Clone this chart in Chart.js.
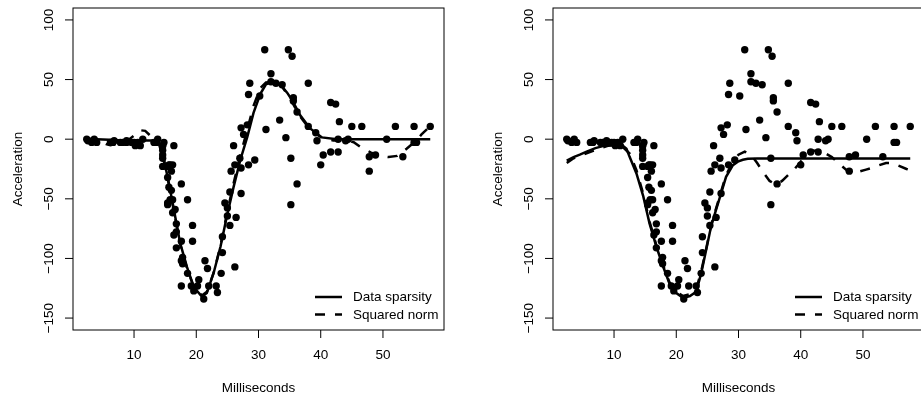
<!DOCTYPE html>
<html><head><meta charset="utf-8">
<script src="https://cdn.jsdelivr.net/npm/chart.js@4.4.1/dist/chart.umd.min.js"></script>
<style>
html,body{margin:0;padding:0;background:#fff;overflow:hidden}
#wrap{position:relative;width:921px;height:401px;overflow:hidden}
canvas{position:absolute;top:0}
</style></head><body>
<div id="wrap">
<canvas id="left" width="480" height="401" style="left:0"></canvas>
<canvas id="right" width="480" height="401" style="left:480px"></canvas>
</div>
<script>
// mcycle data
const times=[2.4,2.6,3.2,3.6,4.0,6.2,6.6,6.8,7.8,8.2,8.8,8.8,9.6,10.0,10.2,10.6,11.0,11.4,13.2,13.6,13.8,14.6,14.6,14.6,14.6,14.6,14.6,14.8,15.4,15.4,15.4,15.4,15.6,15.6,15.8,15.8,16.0,16.0,16.2,16.2,16.2,16.4,16.4,16.6,16.8,16.8,16.8,17.6,17.6,17.6,17.6,17.8,17.8,18.6,18.6,19.2,19.4,19.4,19.6,20.2,20.4,21.2,21.4,21.8,22.0,23.2,23.4,24.0,24.2,24.2,24.6,25.0,25.0,25.4,25.4,25.6,26.0,26.2,26.2,26.4,27.0,27.2,27.2,27.2,27.6,28.2,28.4,28.4,28.6,29.4,30.2,31.0,31.2,32.0,32.0,32.8,33.4,33.8,34.4,34.8,35.2,35.2,35.4,35.6,35.6,36.2,36.2,38.0,38.0,39.2,39.4,40.0,40.4,41.6,41.6,42.4,42.8,42.8,43.0,44.0,44.4,45.0,46.6,47.8,47.8,48.8,50.6,52.0,53.2,55.0,55.0,55.4,57.6];
const accel=[0.0,-1.3,-2.7,0.0,-2.7,-2.7,-2.7,-1.3,-2.7,-2.7,-1.3,-2.7,-2.7,-2.7,-5.4,-2.7,-5.4,0.0,-2.7,-2.7,0.0,-13.3,-5.4,-5.4,-9.3,-16.0,-22.8,-2.7,-22.8,-32.1,-53.5,-54.9,-40.2,-21.5,-21.5,-50.8,-42.9,-26.8,-21.5,-50.8,-61.7,-5.4,-80.4,-59.0,-71.0,-91.1,-77.7,-37.5,-85.6,-123.1,-101.9,-99.1,-104.4,-112.5,-50.8,-123.1,-85.6,-72.3,-127.2,-123.1,-117.9,-134.0,-101.9,-108.4,-123.1,-123.1,-128.5,-112.5,-95.1,-81.8,-53.5,-64.4,-57.6,-72.3,-44.3,-26.8,-5.4,-107.1,-21.5,-65.6,-16.0,-45.6,-24.2,9.5,4.0,12.0,-21.5,37.5,46.9,-17.4,36.2,75.0,8.1,54.9,48.2,46.9,16.0,45.6,1.3,75.0,-16.0,-54.9,69.6,34.8,32.1,-37.5,22.8,46.9,10.7,5.4,-1.3,-21.5,-13.3,30.8,-10.7,29.4,0.0,-10.7,14.7,-1.3,0.0,10.7,10.7,-26.8,-14.7,-13.3,0.0,10.7,-14.7,-2.7,10.7,-2.7,10.7];

// fitted curves, left panel
const sparsX1=[2.4,4,6,8,10,12,13,13.7,14.3,14.8,15.6,16.4,17.4,18.5,19.6,20.9,21.7,22.8,23.9,24.9,26.0,27.1,28.2,29.2,30.3,31.2,32.2,33.0,33.8,34.6,35.4,36.7,38.3,40.2,42.6,45,50,55,57.6];
const sparsY1=[0,0,-0.5,-1,-1,-1,-1,-1.5,-5,-17,-37,-59,-87,-107,-124,-132,-129,-112,-90,-65,-40,-17,2,22,38,46,48,47,44,39,32.7,20,9,1.5,0,0,0,0,0];
const sqX1=[2.4,3.5,4.5,5.5,6.2,7,8,9,10,11,11.8,12.6,13.4,14,14.8,15.6,16.4,17.4,18.5,19.6,20.9,21.7,22.8,23.9,24.9,26.0,27.1,28.2,29.2,30.3,31.2,32.2,33.0,33.8,34.6,35.4,36.7,38.3,40.2,42,44,45.3,46.4,48,49.5,50.9,52.3,53.8,55.4,56.2,57.6];
const sqY1=[0.5,0,-1.5,-4,-5,-4,-2,-1,3,7.5,7,3,0,-4,-18,-38,-60,-88,-108,-124,-131,-128,-112,-89,-63,-37,-13,8,28,43,47.5,48,46.5,44,38,31,19,8,1,-1,-1,-2.5,-6.5,-11,-14,-15,-14,-8,-1,4,11];

// fitted curves, right panel
const sparsX2=[2.4,3.5,4.5,5.6,7,8.8,10.4,11.3,12.0,12.5,13.6,14.7,15.7,16.8,17.9,18.9,20.0,21.1,22.2,23.2,24.0,24.8,25.6,26.4,27.2,28.0,29.1,30.0,30.7,31.5,33,40,50,57.6];
const sparsY2=[-18,-15,-13,-10.5,-7.5,-5,-3.6,-5,-8,-14.8,-28.7,-48,-70.6,-90,-107,-121,-129,-133,-131.5,-128,-112.5,-93,-73,-59,-45.5,-31.6,-21.8,-18.5,-17.2,-16.4,-16.2,-16.2,-16.2,-16.2];
const sqX2=[2.4,3.5,5,6,7.5,9,10.4,11.5,12.5,13.6,14.7,15.7,16.8,17.9,18.9,20.0,21.1,22.2,23.2,24.0,24.8,25.6,26.4,27.2,28.0,29.1,30.0,31.0,32.0,33.0,34.0,35.0,36.0,37.0,38.0,39.0,40.0,41.0,42.0,43.0,44.0,45.0,46.5,47.6,48.5,49.5,50.5,51.5,52.5,53.7,54.6,55.6,57.0,57.6];
const sqY2=[-20,-16,-13,-11,-8,-5.5,-5,-7,-12,-26,-46,-69,-89,-106,-120,-128,-131.5,-130,-126,-111,-92,-72,-58,-44,-30,-19,-13,-10.5,-13,-20,-28,-35,-38,-35,-30,-25,-19,-12,-9.5,-10,-12,-15,-22,-27,-28,-27,-25.5,-24,-22,-20,-20,-22,-25,-26];

const xTicks=[10,20,30,40,50], yTicks=[-150,-100,-50,0,50,100];
const xLimits=[0.19,59.81], yLimits=[-160,110];
const legendLabels=['Data sparsity','Squared norm'];
const xTitle='Milliseconds', yTitle='Acceleration';

const FONT="13.5px 'Liberation Sans', Arial, Helvetica, sans-serif";
const DASH=[10,10];
const pts=(xs,ys)=>xs.map((x,i)=>({x,y:ys[i]}));

const frame={id:'frame',afterDraw(c){
  const {ctx,chartArea:a,scales:{x,y}}=c;
  ctx.save();
  ctx.strokeStyle='#000';ctx.lineWidth=1;ctx.setLineDash([]);
  ctx.strokeRect(a.left,a.top,a.right-a.left,a.bottom-a.top);
  ctx.beginPath();
  xTicks.forEach(v=>{const p=x.getPixelForValue(v);ctx.moveTo(p,a.bottom);ctx.lineTo(p,a.bottom+8);});
  yTicks.forEach(v=>{const p=y.getPixelForValue(v);ctx.moveTo(a.left,p);ctx.lineTo(a.left-8,p);});
  ctx.stroke();
  ctx.fillStyle='#000';ctx.font=FONT;ctx.textAlign='center';ctx.textBaseline='middle';
  xTicks.forEach(v=>ctx.fillText(String(v),x.getPixelForValue(v),a.bottom+25.5));
  yTicks.forEach(v=>{ctx.save();ctx.translate(a.left-24,y.getPixelForValue(v));ctx.rotate(-Math.PI/2);ctx.fillText(String(v).replace('-','\u2212'),0,0);ctx.restore();});
  ctx.fillText(xTitle,(a.left+a.right)/2,a.bottom+58);
  ctx.save();ctx.translate(a.left-55,(a.top+a.bottom)/2);ctx.rotate(-Math.PI/2);ctx.fillText(yTitle,0,0);ctx.restore();
  // legend
  ctx.lineWidth=2.5;ctx.lineCap='butt';
  [[],DASH].forEach((d,i)=>{
    const ly=a.bottom-33+i*17.5;
    ctx.setLineDash(d);ctx.beginPath();ctx.moveTo(a.right-129,ly);ctx.lineTo(a.right-102,ly);ctx.stroke();
    ctx.textAlign='left';ctx.fillText(legendLabels[i],a.right-91,ly+0.5);
  });
  ctx.restore();
}};

function makeChart(id,sx,sy,dx,dy){
  new Chart(document.getElementById(id),{
    type:'scatter',
    data:{datasets:[
      {data:pts(times,accel),pointRadius:3.7,pointHoverRadius:3.7,pointBackgroundColor:'#000',pointBorderWidth:0,order:3},
      {data:pts(sx,sy),showLine:true,borderColor:'#000',borderWidth:2.5,pointRadius:0,order:1},
      {data:pts(dx,dy),showLine:true,borderColor:'#000',borderWidth:2.5,borderDash:DASH,pointRadius:0,order:2}
    ]},
    options:{responsive:false,animation:false,events:[],
      layout:{padding:{left:73,right:36,top:8,bottom:71}},
      plugins:{legend:{display:false},tooltip:{enabled:false}},
      scales:{
        x:{type:'linear',display:false,min:xLimits[0],max:xLimits[1]},
        y:{type:'linear',display:false,min:yLimits[0],max:yLimits[1]}
      }},
    plugins:[frame]
  });
}
makeChart('left',sparsX1,sparsY1,sqX1,sqY1);
makeChart('right',sparsX2,sparsY2,sqX2,sqY2);
</script>
</body></html>
